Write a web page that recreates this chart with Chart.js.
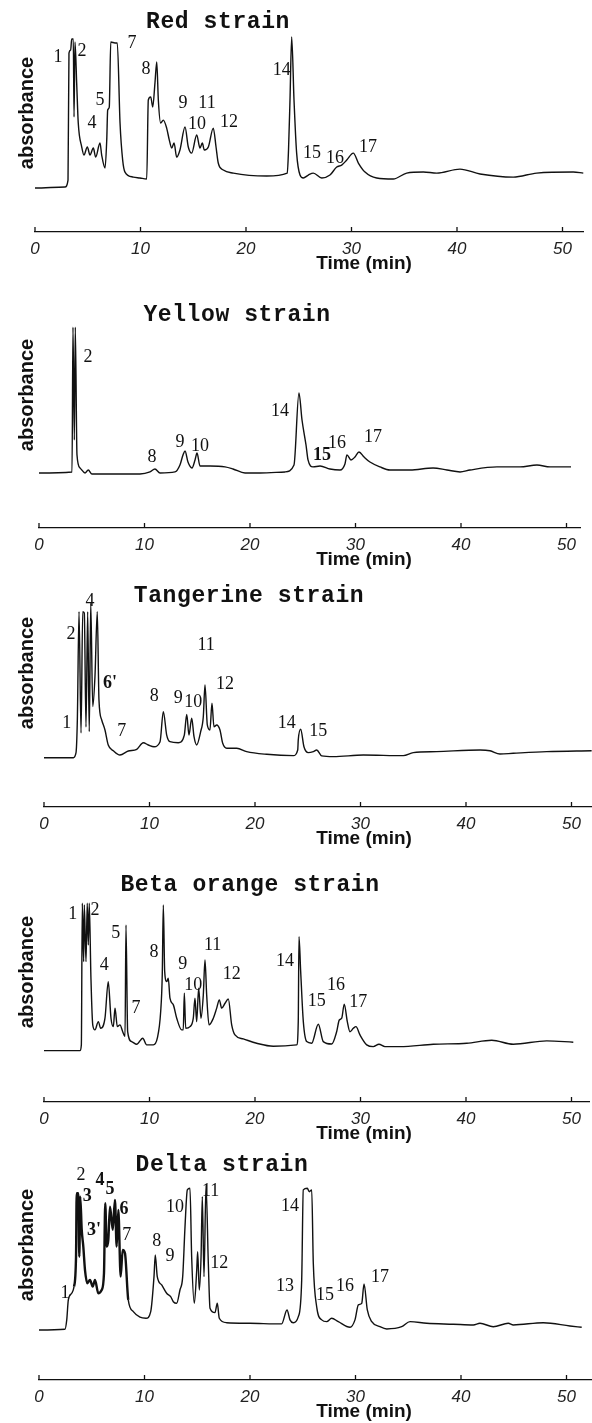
<!DOCTYPE html>
<html>
<head>
<meta charset="utf-8">
<script src="https://cdn.jsdelivr.net/npm/chart.js@4.4.1/dist/chart.umd.min.js"></script>
<style>
  html, body { margin: 0; padding: 0; background: #fff; overflow: hidden; }
  body { width: 592px; height: 1423px; position: relative; }
  canvas { position: absolute; left: 0; }
</style>
</head>
<body>
<canvas id="c0" width="592" height="280"></canvas>
<canvas id="c1" width="592" height="280"></canvas>
<canvas id="c2" width="592" height="280"></canvas>
<canvas id="c3" width="592" height="280"></canvas>
<canvas id="c4" width="592" height="280"></canvas>
<script>
// Datos: [tiempo (min), absorbancia relativa]
const redTrace = [[0,0],[2.84,0.7],[3.13,5.4],[3.22,91.2],[3.38,93.2],[3.48,100.7],[3.63,100.7],[3.70,48.0],[3.79,98.6],[3.95,70.9],[4.10,43.9],[4.43,27.7],[4.64,22.3],[4.96,27.7],[5.21,22.3],[5.53,27.0],[5.75,20.9],[6.16,30.4],[6.32,22.3],[6.64,13.5],[6.80,32.4],[6.89,52.7],[7.04,54.7],[7.18,98.6],[7.58,98.0],[7.80,98.0],[8.06,43.9],[8.31,18.9],[8.53,10.8],[9.32,7.4],[9.95,6.8],[10.59,6.1],[10.74,59.5],[10.97,61.5],[11.16,54.7],[11.37,70.9],[11.54,85.1],[11.69,59.5],[11.91,43.9],[12.16,45.9],[12.48,40.5],[12.73,32.4],[12.96,27.0],[13.18,30.4],[13.43,20.9],[13.74,25.7],[14.22,41.2],[14.53,27.7],[14.85,23.6],[15.33,35.8],[15.64,27.0],[15.86,30.4],[16.05,25.7],[16.43,27.7],[16.90,40.5],[17.16,27.7],[17.37,16.9],[17.85,12.2],[18.80,10.1],[21.96,8.1],[23.91,10.1],[24.03,25.7],[24.17,59.5],[24.33,102],[24.55,59.5],[24.80,23.6],[25.12,8.8],[25.43,6.8],[25.91,8.8],[26.38,10.1],[27.18,6.8],[27.96,8.8],[28.60,14.2],[29.07,15.5],[29.55,18.9],[30.17,23.6],[30.65,16.9],[31.28,10.8],[32.39,6.8],[33.96,6.1],[35.23,10.1],[36.81,10.8],[38.08,10.1],[40.28,12.8],[42.18,9.5],[45.34,7.4],[47.55,10.1],[51.02,10.8],[51.97,10.1]];

const yellowTrace = [[0,0],[3.13,0.7],[3.22,98.6],[3.35,22.3],[3.44,98.6],[3.60,12.2],[3.89,3.4],[4.36,0],[4.67,2.0],[5.02,-0.7],[6.26,-0.7],[9.57,-0.7],[10.52,0.7],[10.99,2.7],[11.47,0],[12.89,0.7],[13.36,5.4],[13.65,12.2],[13.84,14.9],[14.12,7.4],[14.50,3.4],[14.79,8.8],[14.98,13.5],[15.26,4.7],[16.21,4.7],[17.63,4.1],[18.39,2.7],[19.53,0],[20.95,0],[23.32,0.7],[24.17,5.4],[24.64,54.1],[24.93,35.8],[25.31,18.9],[25.50,8.8],[25.97,4.1],[26.64,4.7],[27.58,2.7],[28.53,2.0],[29.0,6.1],[29.19,12.2],[29.57,8.8],[29.95,10.8],[30.33,14.2],[30.81,10.8],[31.37,7.4],[32.32,4.1],[33.27,2.0],[35.17,2.0],[37.35,3.4],[38.67,2.0],[39.91,0.7],[40.85,2.0],[43.41,4.1],[45.59,4.1],[47.20,5.4],[48.44,4.1],[50.43,4.1]];

const tangerineTrace = [[0,0.2],[2.78,0.2],[3.03,3.4],[3.16,25.7],[3.32,98.9],[3.51,16.9],[3.67,98.9],[3.82,98.0],[3.98,20.9],[4.14,98.9],[4.29,17.8],[4.43,104.7],[4.62,34.7],[4.83,54.9],[5.05,98.9],[5.21,39.2],[5.47,25.7],[5.78,18.9],[6.09,8.8],[6.57,4.9],[7.20,2.0],[7.99,4.7],[8.79,5.9],[9.41,10.3],[9.89,8.8],[10.43,7.6],[11.0,11.0],[11.31,31.3],[11.63,15.5],[11.94,11.0],[12.73,10.3],[13.30,15.5],[13.53,29.5],[13.74,15.5],[14.0,26.8],[14.22,14.4],[14.47,8.8],[14.85,17.8],[15.10,27.9],[15.26,49.3],[15.48,22.3],[15.73,18.9],[15.92,37.0],[16.11,21.1],[16.37,22.3],[16.68,18.9],[16.94,9.9],[17.32,6.6],[18.27,6.6],[19.21,4.3],[21.11,2.5],[23.63,1.6],[24.05,5.4],[24.10,12.2],[24.33,19.4],[24.64,7.6],[25.05,3.6],[25.53,4.3],[25.85,5.4],[26.32,1.4],[27.42,0.9],[30.27,2.0],[34.06,1.6],[35.0,3.6],[37.22,4.3],[41.33,5.4],[42.27,4.9],[43.22,2.7],[44.48,3.2],[47.65,4.3],[51.91,4.9]];

const betaTrace = [[0,0.2],[3.41,0.2],[3.54,4.1],[3.63,99.8],[3.76,60.3],[3.82,98.6],[3.98,60.3],[4.10,99.8],[4.20,71.6],[4.29,99.8],[4.45,49.1],[4.62,17.6],[4.83,14.2],[5.15,19.8],[5.37,15.3],[5.78,22.1],[6.09,46.8],[6.35,22.1],[6.57,16.4],[6.73,28.9],[6.95,16.4],[7.20,17.6],[7.46,13.0],[7.68,9.7],[7.77,85.1],[7.93,13.0],[8.31,6.3],[8.79,4.5],[9.36,8.6],[9.73,4.1],[10.36,4.1],[10.74,8.6],[11.06,26.6],[11.21,51.4],[11.31,98.6],[11.44,53.6],[11.63,46.8],[11.78,49.1],[11.94,35.6],[12.26,31.1],[12.58,22.1],[13.05,14.2],[13.20,14.2],[13.30,39.0],[13.43,15.3],[13.84,16.4],[14.15,22.1],[14.31,35.6],[14.47,19.8],[14.66,42.4],[14.88,22.1],[15.10,37.8],[15.26,61.5],[15.42,37.8],[15.64,17.6],[16.05,22.1],[16.37,28.9],[16.62,34.5],[16.84,28.9],[17.16,32.2],[17.47,35.1],[17.79,17.6],[18.10,10.8],[18.89,8.1],[20.16,5.2],[21.73,3.2],[23.95,4.1],[24.10,19.8],[24.17,77.2],[24.33,53.6],[24.58,19.8],[24.90,6.3],[25.37,5.2],[26.0,18.0],[26.47,6.3],[27.27,4.7],[27.74,13.0],[27.99,20.9],[28.22,22.1],[28.46,31.6],[28.75,19.8],[29.0,13.0],[29.32,15.3],[29.57,16.4],[29.95,10.8],[30.59,4.1],[31.21,2.9],[31.75,4.5],[32.32,2.9],[33.74,2.9],[36.90,4.5],[40.07,5.2],[42.44,7.2],[44.48,4.5],[47.65,6.8],[50.17,5.9]];

const deltaTrace = [[0,0],[2.46,0.5],[2.63,6.8],[2.78,20.3],[3.10,24.8],[3.32,29.3],[3.51,49.5],[3.57,92.4],[3.73,92.4],[3.82,49.5],[3.91,90.1],[4.05,67.6],[4.20,56.3],[4.36,40.5],[4.58,31.6],[4.83,33.8],[5.09,29.3],[5.31,33.8],[5.62,24.8],[5.94,27.0],[6.16,38.3],[6.28,85.6],[6.42,56.3],[6.57,60.8],[6.73,83.3],[6.99,67.6],[7.20,87.8],[7.36,56.3],[7.52,81.1],[7.74,36.0],[7.93,54.1],[8.15,51.8],[8.46,20.3],[8.94,12.4],[9.57,8.6],[10.14,7.9],[10.59,12.4],[10.90,36.0],[11.02,50.7],[11.21,36.0],[11.63,30.4],[12.10,24.8],[12.48,22.5],[12.73,19.1],[13.05,18.0],[13.36,27.0],[13.62,36.0],[13.84,69.8],[14.06,94.6],[14.31,95.7],[14.47,49.5],[14.72,18.0],[14.95,40.5],[15.04,52.9],[15.19,27.0],[15.36,49.5],[15.48,90.1],[15.64,36.0],[15.83,98.0],[16.05,45.1],[16.21,14.7],[16.68,11.7],[16.90,18.0],[17.09,7.9],[17.79,4.9],[20.0,4.5],[23.0,4.1],[23.51,13.5],[23.79,6.8],[24.10,4.9],[24.58,9.0],[24.90,33.8],[25.05,94.6],[25.43,95.7],[25.62,93.4],[25.85,94.6],[26.0,45.1],[26.32,15.7],[26.80,6.8],[27.27,5.6],[27.74,7.9],[28.37,5.6],[29.48,1.8],[29.95,6.8],[30.27,16.9],[30.59,18.0],[30.81,31.1],[31.12,13.5],[31.54,5.6],[32.32,2.2],[32.96,0.7],[34.38,2.2],[35.17,5.6],[36.75,4.5],[39.27,3.9],[41.17,3.4],[41.80,4.5],[43.06,2.2],[44.48,4.5],[44.96,3.4],[47.80,4.9],[50.33,2.7],[51.44,1.8]];

// Picos: [etiqueta, tiempo, absorbancia del rótulo]
const redPeaks = [['1',2.18,88.5],['2',4.46,92.6],['4',5.40,43.9],['5',6.16,59.5],['7',9.19,97.9],['8',10.52,80.4],['9',14.03,57.4],['10',15.36,43.2],['11',16.3,57.4],['12',18.39,44.6],['14',23.4,79.7],['15',26.26,23.6],['16',28.44,20.3],['17',31.56,27.7]];
const yellowPeaks = [['2',4.64,78.4],['8',10.71,10.8],['9',13.36,20.9],['10',15.26,18.2],['14',22.84,41.9],['15',26.82,12.2],['16',28.25,20.3],['17',31.66,24.3]];
const tangerinePeaks = [['1',2.15,23.8],['2',2.56,83.8],['4',4.36,105.6],["6'",6.26,50.5],['7',7.36,17.8],['8',10.46,41.9],['9',12.73,40.3],['10',14.15,37.4],['11',15.36,76.4],['12',17.16,50.0],['14',23.0,23.8],['15',25.99,17.8]];
const betaPeaks = [['1',2.72,92.6],['2',4.83,94.8],['4',5.71,57.7],['5',6.80,79.5],['7',8.72,28.8],['8',10.43,66.7],['9',13.15,58.8],['10',14.15,44.6],['11',15.99,71.6],['12',17.79,51.8],['14',22.84,60.3],['15',25.85,33.8],['16',27.68,44.1],['17',29.79,32.6]];
const deltaPeaks = [['1',2.46,24.8],['2',3.98,104.7],['3',4.58,90.1],["3'",5.21,67.6],['4',5.78,101.4],['5',6.73,95.1],['6',8.06,81.5],['7',8.31,64.2],['8',11.15,59.7],['9',12.42,50.0],['10',12.89,82.9],['11',16.27,93.4],['12',17.09,45.1],['13',23.32,29.3],['14',23.79,83.3],['15',27.11,23.6],['16',29.0,29.3],['17',32.32,35.8]];

const xTickStep = 10;

// Disposición de cada panel (píxeles)
const PX_PER_MIN = 10.55;
const panels = [
    { id: 'c0', top: 0,    x0: 35, xMax: 52,   yMin: -29.7, yMax: 105.4, title: 'Red strain',         titleX: 218, titleY: 22, absY: 113, trace: redTrace,       peaks: redPeaks,       bold: [] },
    { id: 'c1', top: 296,  x0: 39, xMax: 51.3, yMin: -37.2, yMax: 98.0,  title: 'Yellow strain',      titleX: 237, titleY: 19, absY: 99,  trace: yellowTrace,    peaks: yellowPeaks,    bold: ['15'] },
    { id: 'c2', top: 575,  x0: 44, xMax: 51.9, yMin: -33.1, yMax: 102.0, title: 'Tangerine strain',   titleX: 249, titleY: 21, absY: 98,  trace: tangerineTrace, peaks: tangerinePeaks, bold: ["6'"] },
    { id: 'c3', top: 870,  x0: 44, xMax: 51.7, yMin: -34.5, yMax: 100.6, title: 'Beta orange strain', titleX: 250, titleY: 15, absY: 102, trace: betaTrace,      peaks: betaPeaks,      bold: [] },
    { id: 'c4', top: 1148, x0: 39, xMax: 52.4, yMin: -33.8, yMax: 101.3, title: 'Delta strain',       titleX: 222, titleY: 17, absY: 97,  trace: deltaTrace,     peaks: deltaPeaks,     bold: ['3', "3'", '4', '5', '6'] }
];

Chart.defaults.font.family = '"Liberation Sans", Arial, sans-serif';
Chart.defaults.color = '#111';

// Textos del panel: título, eje y, marcas hacia arriba, rótulos de picos
const panelText = {
    id: 'panelText',
    afterDraw(chart, args, opts) {
        const { ctx, chartArea } = chart;
        const x = chart.scales.x;
        const y = chart.scales.y;
        ctx.save();
        ctx.fillStyle = '#111';
        ctx.strokeStyle = '#111';
        ctx.lineWidth = 1.3;

        x.ticks.forEach(t => {
            const px = x.getPixelForValue(t.value);
            ctx.beginPath();
            ctx.moveTo(px, chartArea.bottom);
            ctx.lineTo(px, chartArea.bottom - 5);
            ctx.stroke();
        });

        ctx.textAlign = 'center';
        ctx.textBaseline = 'middle';
        ctx.font = 'bold 23px "Liberation Mono", monospace';
        ctx.letterSpacing = '0.6px';
        ctx.fillText(opts.title, opts.titleX, opts.titleY);
        ctx.letterSpacing = '0px';

        ctx.font = 'bold 19px "Liberation Sans", Arial, sans-serif';
        ctx.fillText('Time (min)', 364, chartArea.bottom + 32);

        ctx.save();
        ctx.translate(27, opts.absY);
        ctx.rotate(-Math.PI / 2);
        ctx.font = 'bold 20px "Liberation Sans", Arial, sans-serif';
        ctx.fillText('absorbance', 0, 0);
        ctx.restore();

        opts.peaks.forEach(p => {
            const isBold = opts.bold.includes(p[0]);
            ctx.font = (isBold ? 'bold ' : '') + '18px "Liberation Serif", "Times New Roman", serif';
            ctx.fillText(p[0], x.getPixelForValue(p[1]), y.getPixelForValue(p[2]));
        });
        ctx.restore();
    }
};

panels.forEach(p => {
    const canvas = document.getElementById(p.id);
    canvas.style.top = p.top + 'px';
    const rightPad = 592 - p.x0 - p.xMax * PX_PER_MIN;
    const thick = p.id === 'c4';

    new Chart(canvas, {
        type: 'line',
        data: {
            datasets: [{
                data: p.trace.map(d => ({ x: d[0], y: d[1] })),
                borderColor: '#111',
                borderWidth: 1.4,
                pointRadius: 0,
                cubicInterpolationMode: 'monotone',
                clip: false,
                segment: {
                    borderWidth: c => (thick && c.p0.parsed.x > 3.3 && c.p1.parsed.x < 8.6) ? 2.4 : 1.4
                }
            }]
        },
        options: {
            responsive: false,
            animation: false,
            devicePixelRatio: 1,
            layout: { padding: { left: p.x0, right: rightPad, top: 32, bottom: 0 } },
            plugins: {
                legend: { display: false },
                tooltip: { enabled: false },
                panelText: { title: p.title, titleX: p.titleX, titleY: p.titleY, absY: p.absY, peaks: p.peaks, bold: p.bold }
            },
            scales: {
                x: {
                    type: 'linear',
                    min: 0,
                    max: p.xMax,
                    grid: { display: false, drawTicks: false },
                    border: { display: true, color: '#111', width: 1.3 },
                    ticks: {
                        stepSize: xTickStep,
                        includeBounds: false,
                        padding: 7,
                        color: '#222',
                        font: { size: 17, style: 'italic' }
                    },
                    afterFit: s => { s.height = 48; }
                },
                y: { display: false, min: p.yMin, max: p.yMax }
            }
        },
        plugins: [panelText]
    });
});
</script>
</body>
</html>
